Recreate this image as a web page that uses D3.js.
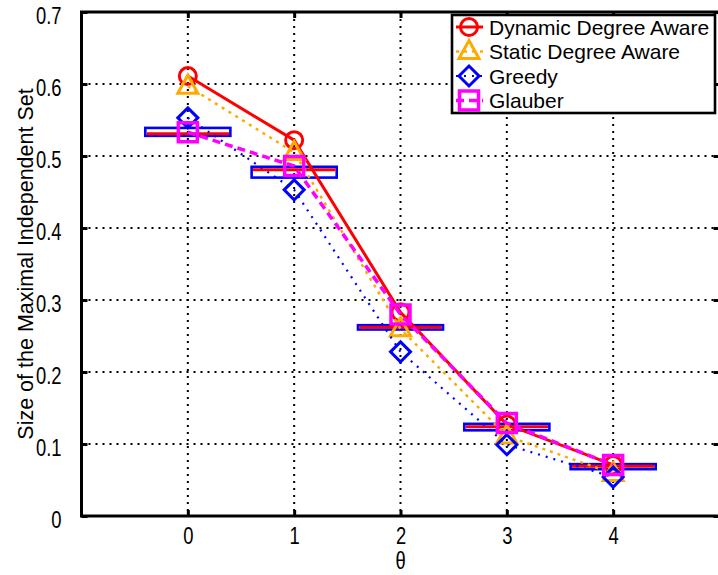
<!DOCTYPE html>
<html>
<head>
<meta charset="utf-8">
<script src="https://cdn.jsdelivr.net/npm/d3@7"></script>
<style>
  body { margin: 0; background: #fff; }
  svg { display: block; }
  text { font-family: "Liberation Sans", Arial, Helvetica, sans-serif; fill: #000; }
</style>
</head>
<body>
<svg id="chart" width="718" height="575"></svg>
<script>
// θ values on the horizontal axis
const thetas = [0, 1, 2, 3, 4];

// Size of the maximal independent set for each algorithm
const dynamicAware = [0.611, 0.522, 0.283, 0.127, 0.071];
const staticAware  = [0.597, 0.505, 0.260, 0.111, 0.059];
const greedy       = [0.553, 0.453, 0.228, 0.099, 0.054];
const glauber      = [0.533, 0.486, 0.280, 0.129, 0.071];

// Spread of the Glauber runs: box bounds and median
const boxLow    = [0.528, 0.470, 0.259, 0.119, 0.065];
const boxHigh   = [0.539, 0.485, 0.265, 0.128, 0.072];
const boxMedian = [0.531, 0.481, 0.262, 0.124, 0.069];

// Tick labels
const yTicks = [0, 0.1, 0.2, 0.3, 0.4, 0.5, 0.6, 0.7];
const yTickLabels = ["0", "0.1", "0.2", "0.3", "0.4", "0.5", "0.6", "0.7"];
const xTickLabels = ["0", "1", "2", "3", "4"];

const seriesNames = ["Dynamic Degree Aware", "Static Degree Aware", "Greedy", "Glauber"];

const svg = d3.select("#chart");
const plot = { left: 81.5, right: 719.5, top: 12, bottom: 516 };

const x = d3.scaleLinear().domain([-1, 5]).range([plot.left, plot.right]);
const y = d3.scaleLinear().domain([0, 0.7]).range([plot.bottom, plot.top]);

// Dotted grid
const grid = svg.append("g").attr("stroke", "#000").attr("stroke-width", 2)
  .attr("stroke-dasharray", "2,5");
grid.selectAll("line.gx").data(thetas).join("line")
  .attr("x1", d => x(d)).attr("x2", d => x(d))
  .attr("y1", plot.top).attr("y2", plot.bottom);
grid.selectAll("line.gy").data(yTicks.slice(1, -1)).join("line")
  .attr("x1", plot.left).attr("x2", plot.right)
  .attr("y1", d => y(d)).attr("y2", d => y(d));

// Box-plot style spread of the Glauber runs
const boxHalf = 0.4;
const boxes = svg.append("g");
boxes.selectAll("rect").data(thetas).join("rect")
  .attr("x", d => x(d - boxHalf))
  .attr("width", d => x(d + boxHalf) - x(d - boxHalf))
  .attr("y", (d, i) => y(boxHigh[i]))
  .attr("height", (d, i) => y(boxLow[i]) - y(boxHigh[i]))
  .attr("fill", "none").attr("stroke", "#0000ff").attr("stroke-width", 2.6);
boxes.selectAll("line").data(thetas).join("line")
  .attr("x1", d => x(d - boxHalf) + 1.3).attr("x2", d => x(d + boxHalf) - 1.3)
  .attr("y1", (d, i) => y(boxMedian[i])).attr("y2", (d, i) => y(boxMedian[i]))
  .attr("stroke", "#ff0000").attr("stroke-width", 3);

// Marker shapes
const markerPath = {
  circle: "M-8.5,0A8.5,8.5 0 1,0 8.5,0A8.5,8.5 0 1,0 -8.5,0Z",
  triangle: "M0,-11L10,7L-10,7Z",
  diamond: "M0,-10L10,0L0,10L-10,0Z",
  square: "M-9.5,-9.5H9.5V9.5H-9.5Z"
};

const series = [
  { name: seriesNames[0], values: dynamicAware, color: "#ff0000", width: 3,   dash: null,  marker: "circle",   mw: 3 },
  { name: seriesNames[1], values: staticAware,  color: "#ffaa00", width: 2.5, dash: "3,5", marker: "triangle", mw: 3 },
  { name: seriesNames[2], values: greedy,       color: "#0000ff", width: 2.2, dash: "2,6", marker: "diamond",  mw: 3 },
  { name: seriesNames[3], values: glauber,      color: "#ff00ff", width: 3.5, dash: "8,5", marker: "square",   mw: 3.5 }
];

const line = d3.line().x(d => x(d[0])).y(d => y(d[1]));

series.forEach(s => {
  const pts = thetas.map((t, i) => [t, s.values[i]]);
  const g = svg.append("g");
  g.append("path").datum(pts).attr("d", line)
    .attr("fill", "none").attr("stroke", s.color).attr("stroke-width", s.width)
    .attr("stroke-dasharray", s.dash);
  g.selectAll("path.m").data(pts).join("path").attr("class", "m")
    .attr("d", markerPath[s.marker])
    .attr("transform", d => `translate(${x(d[0])},${y(d[1])})`)
    .attr("fill", "none").attr("stroke", s.color).attr("stroke-width", s.mw);
});

// Axes with inward ticks and a full frame
const frame = svg.append("g");
frame.append("rect")
  .attr("x", plot.left).attr("y", plot.top)
  .attr("width", plot.right - plot.left).attr("height", plot.bottom - plot.top)
  .attr("fill", "none").attr("stroke", "#000").attr("stroke-width", 3);

const yAxis = svg.append("g").attr("transform", `translate(${plot.left},0)`)
  .call(d3.axisLeft(y).tickValues(yTicks).tickFormat((d, i) => yTickLabels[i])
    .tickSizeInner(-6).tickSizeOuter(0).tickPadding(20));
const xAxis = svg.append("g").attr("transform", `translate(0,${plot.bottom})`)
  .call(d3.axisBottom(x).tickValues(thetas).tickFormat((d, i) => xTickLabels[i])
    .tickSizeInner(-6).tickSizeOuter(0).tickPadding(12));
const topAxis = svg.append("g").attr("transform", `translate(0,${plot.top})`)
  .call(d3.axisTop(x).tickValues(thetas).tickFormat("").tickSizeInner(-6).tickSizeOuter(0));
const rightAxis = svg.append("g").attr("transform", `translate(${plot.right},0)`)
  .call(d3.axisRight(y).tickValues(yTicks).tickFormat("").tickSizeInner(-6).tickSizeOuter(0));

[yAxis, xAxis, topAxis, rightAxis].forEach(a => {
  a.select(".domain").remove();
  a.selectAll(".tick line").attr("stroke", "#000").attr("stroke-width", 3);
});

// Narrow, tall tick numerals
yAxis.selectAll(".tick text")
  .attr("x", 0).attr("dy", "0.52em")
  .attr("transform", "translate(-20,0) scale(0.8,1)")
  .style("font-size", "23px");
xAxis.selectAll(".tick text")
  .attr("transform", "scale(0.8,1)")
  .style("font-size", "23px");

// Axis titles
svg.append("text")
  .attr("transform", `translate(${x(2)},569) scale(0.8,1)`)
  .attr("text-anchor", "middle").style("font-size", "23px").text("θ");
svg.append("text")
  .attr("transform", `translate(33,${(plot.top + plot.bottom) / 2}) rotate(-90)`)
  .attr("text-anchor", "middle").style("font-size", "21.5px")
  .text("Size of the Maximal Independent Set");

// Legend
const legend = svg.append("g");
legend.append("rect")
  .attr("x", 452).attr("y", 15).attr("width", 263).attr("height", 98)
  .attr("fill", "#fff").attr("stroke", "#000").attr("stroke-width", 2.6);
const rowY = d3.scalePoint().domain(seriesNames).range([27, 100.5]);
series.forEach(s => {
  const cy = rowY(s.name);
  legend.append("line").attr("x1", 456).attr("x2", 483).attr("y1", cy).attr("y2", cy)
    .attr("stroke", s.color).attr("stroke-width", s.width).attr("stroke-dasharray", s.dash);
  legend.append("path").attr("d", markerPath[s.marker])
    .attr("transform", `translate(469,${cy})`)
    .attr("fill", "none").attr("stroke", s.color).attr("stroke-width", s.mw);
  legend.append("text").attr("x", 489).attr("y", cy).attr("dy", "0.36em")
    .style("font-size", "21px").text(s.name);
});
</script>
</body>
</html>
